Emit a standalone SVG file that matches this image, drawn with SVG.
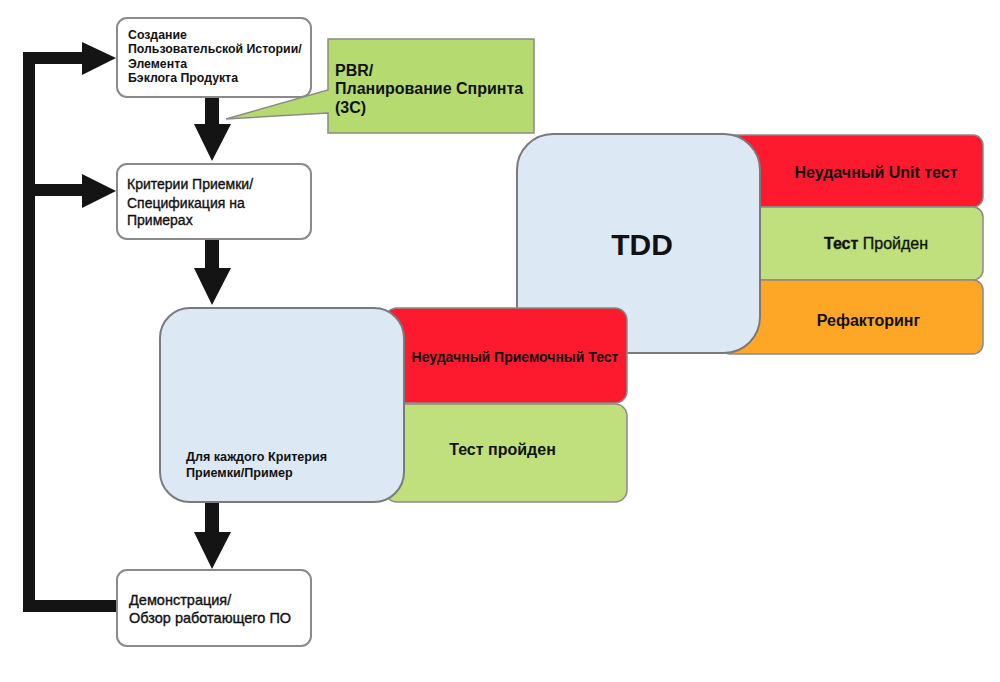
<svg xmlns="http://www.w3.org/2000/svg" width="1000" height="682" viewBox="0 0 1000 682">
<style>
text{font-family:"Liberation Sans",Arial,sans-serif;fill:#111}
.wb{fill:#fff;stroke:#8a8a8a;stroke-width:2}
.blue{fill:#dde8f5;stroke:#7a7a7a;stroke-width:2}
.red{fill:#fe1a2e;stroke:#8a8a8a;stroke-width:1.5}
.grn{fill:#bfe07c;stroke:#8a8a8a;stroke-width:1.5}
.org{fill:#fea726;stroke:#8a8a8a;stroke-width:1.5}
.b{font-weight:bold}
.m{stroke:#111;stroke-width:0.35}
.bar{fill:none;stroke:#141414;stroke-width:12;stroke-linejoin:miter}
.ah{fill:#141414}
</style>
<g id="connectors">
<path class="bar" d="M117,606 H29 V58 H84"/>
<path class="bar" d="M29,190 H84"/>
<polygon class="ah" points="82,42 116,58 82,75"/>
<polygon class="ah" points="82,174 116,191 82,208"/>
<polygon class="ah" points="205,97 219,97 219,124 231,124 212,161 194,124 205,124"/>
<polygon class="ah" points="205,239 219,239 219,268 231,268 212,305 194,268 205,268"/>
<polygon class="ah" points="205,503 219,503 219,532 231,532 212,569 194,532 205,532"/>
</g>
<g id="story">
<rect class="wb" x="117" y="18" width="194" height="79" rx="10"/>
<text class="b" font-size="12.3"><tspan x="128" y="38.5">Создание</tspan><tspan x="128" y="53">Пользовательской Истории/</tspan><tspan x="128" y="67.5">Элемента</tspan><tspan x="128" y="82">Бэклога Продукта</tspan></text>
</g>
<g id="pbr">
<polygon points="328,39 534,39 534,133 328,133 328,113 226,119 328,90" fill="#b5da70" stroke="#8a8a8a" stroke-width="1.5"/>
<text class="b" font-size="16"><tspan x="335" y="76">PBR/</tspan><tspan x="335" y="94">Планирование Спринта</tspan><tspan x="335" y="113">(3С)</tspan></text>
</g>
<g id="criteria">
<rect class="wb" x="117" y="164" width="194" height="75" rx="10"/>
<text class="m" font-size="14"><tspan x="127" y="189">Критерии Приемки/</tspan><tspan x="127" y="207.5">Спецификация на</tspan><tspan x="127" y="224.5">Примерах</tspan></text>
</g>
<g id="tdd">
<rect class="red" x="720" y="135" width="263" height="72" rx="10"/>
<rect class="grn" x="720" y="207" width="263" height="73" rx="10"/>
<rect class="org" x="720" y="280" width="263" height="74" rx="10"/>
<rect class="blue" x="517" y="134" width="243" height="219" rx="36"/>
<text class="b" x="642" y="255" font-size="30" text-anchor="middle">TDD</text>
<text class="b" x="876" y="178" font-size="16" text-anchor="middle">Неудачный Unit тест</text>
<text x="876" y="249" font-size="16" text-anchor="middle" class="m"><tspan class="b">Тест</tspan> Пройден</text>
<text class="b" x="868.5" y="326" font-size="16" text-anchor="middle">Рефакторинг</text>
</g>
<g id="acceptance">
<rect class="red" x="385" y="308" width="242" height="95" rx="12"/>
<rect class="grn" x="385" y="404" width="242" height="98" rx="12"/>
<rect class="blue" x="160" y="308" width="244" height="194" rx="30"/>
<text class="b" x="515" y="362" font-size="14" text-anchor="middle">Неудачный Приемочный Тест</text>
<text class="b" x="502.5" y="455" font-size="16" text-anchor="middle">Тест пройден</text>
<text class="b" font-size="12.6"><tspan x="186" y="460.5">Для каждого Критерия</tspan><tspan x="186" y="476.5">Приемки/Пример</tspan></text>
</g>
<g id="demo">
<rect class="wb" x="117" y="570" width="194" height="76" rx="10"/>
<text class="m" font-size="14.5"><tspan x="129" y="605">Демонстрация/</tspan><tspan x="129" y="623">Обзор работающего ПО</tspan></text>
</g>
</svg>
